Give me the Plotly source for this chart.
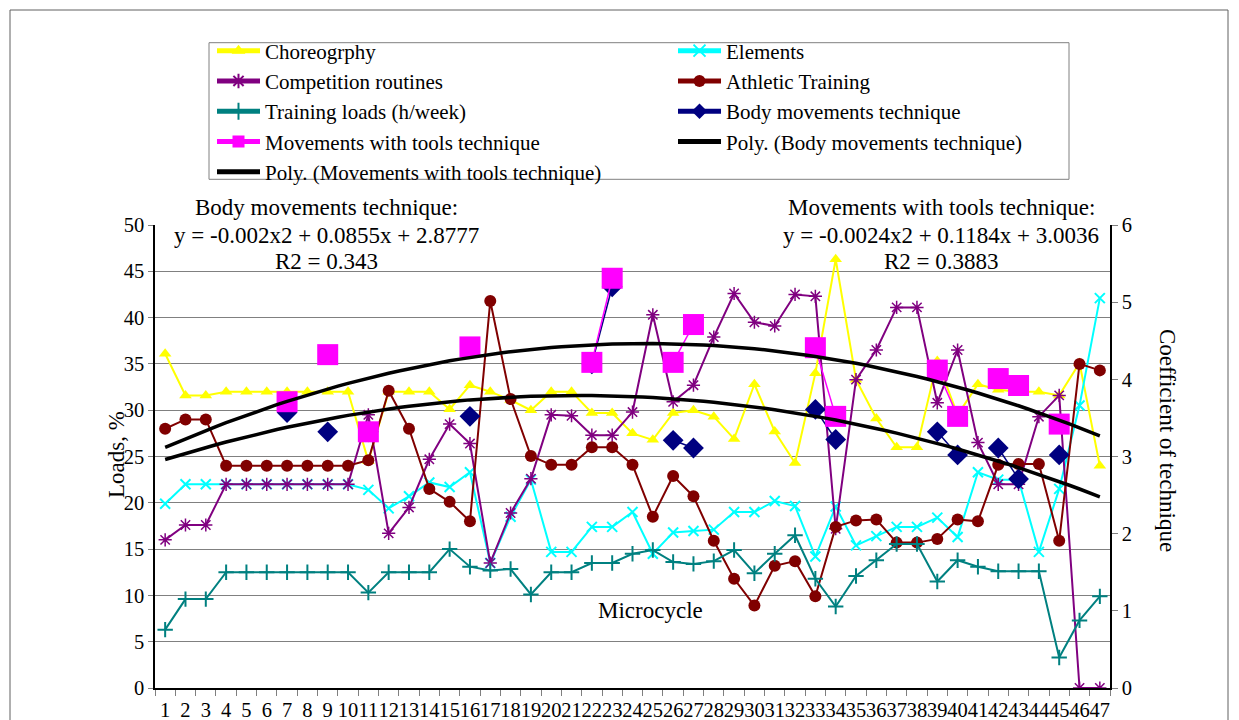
import numpy as np
import plotly.graph_objects as go

# ---------------- data ----------------
microcycle = list(range(1, 48))
tick_labels = [str(i) for i in microcycle]

choreography = [36.1, 31.6, 31.6, 32.0, 32.0, 32.0, 32.0, 32.0, 32.0, 32.0,
                24.5, 32.0, 32.0, 32.0, 30.1, 32.7, 32.0, 31.1, 30.0, 32.0,
                32.0, 29.7, 29.7, 27.5, 26.8, 29.7, 30.0, 29.3, 26.9, 32.8,
                27.7, 24.3, 34.0, 46.3, 33.3, 29.1, 26.0, 26.0, 35.3, 29.5,
                32.8, 32.2, 32.0, 32.0, 31.6, 35.1, 24.0]

elements = [19.9, 22.0, 22.0, 22.0, 22.0, 22.0, 22.0, 22.0, 22.0, 22.0,
            21.4, 19.4, 20.7, 22.2, 21.7, 23.3, 13.5, 18.5, 22.5, 14.7,
            14.7, 17.4, 17.4, 19.0, 14.5, 16.8, 16.95, 17.1, 19.0, 19.0,
            20.2, 19.65, 14.2, 19.6, 15.4, 16.4, 17.4, 17.4, 18.4, 16.3,
            23.3, 22.5, 22.5, 14.7, 21.5, 30.5, 42.1]

competition = [16.0, 17.6, 17.6, 22.0, 22.0, 22.0, 22.0, 22.0, 22.0, 22.0,
               29.5, 16.7, 19.5, 24.7, 28.5, 26.4, 13.5, 18.9, 22.6, 29.5,
               29.4, 27.3, 27.3, 29.8, 40.3, 30.9, 32.7, 37.9, 42.6, 39.5,
               39.1, 42.5, 42.3, 17.2, 33.3, 36.5, 41.1, 41.1, 30.8, 36.5,
               26.5, 22.0, 22.0, 29.3, 31.6, 0.0, 0.0]

athletic = [28.0, 29.0, 29.0, 24.0, 24.0, 24.0, 24.0, 24.0, 24.0, 24.0,
            24.6, 32.1, 28.0, 21.5, 20.1, 18.0, 41.8, 31.2, 25.05, 24.1,
            24.1, 26.0, 26.0, 24.1, 18.5, 22.9, 20.7, 15.9, 11.8, 8.9,
            13.2, 13.7, 9.9, 17.4, 18.1, 18.2, 15.7, 15.7, 16.1, 18.2,
            18.0, 24.1, 24.2, 24.2, 15.9, 35.0, 34.3]

training_loads = [6.3, 9.6, 9.6, 12.5, 12.5, 12.5, 12.5, 12.5, 12.5, 12.5,
                  10.3, 12.5, 12.5, 12.5, 15.0, 13.1, 12.7, 12.85, 10.1, 12.5,
                  12.5, 13.5, 13.5, 14.5, 14.9, 13.6, 13.4, 13.7, 14.9, 12.4,
                  14.5, 16.5, 11.8, 8.8, 12.1, 13.8, 15.55, 15.55, 11.5, 13.8,
                  13.1, 12.6, 12.6, 12.6, 3.3, 7.3, 9.9]

N = None
body_technique = [N, N, N, N, N, N, 3.57, N, 3.32, N,
                  3.32, N, N, N, N, 3.52, N, N, N, N,
                  N, 4.2, 5.2, N, N, 3.21, 3.11, N, N, N,
                  N, N, 3.61, 3.22, N, N, N, N, 3.32, 3.02,
                  N, 3.11, 2.71, N, 3.02, N, N]

tools_technique = [N, N, N, N, N, N, 3.71, N, 4.32, N,
                   3.32, N, N, N, N, 4.42, N, N, N, N,
                   N, 4.22, 5.31, N, N, 4.22, 4.71, N, N, N,
                   N, N, 4.41, 3.52, N, N, N, N, 4.12, 3.52,
                   N, 4.01, 3.92, N, 3.42, N, N]

# polynomial trendline coefficients (as printed on the chart)
body_poly = [-0.002, 0.0855, 2.8777]
tools_poly = [-0.0024, 0.1184, 3.0036]

# ---------------- helpers ----------------
FONT = "Liberation Serif, Times New Roman, serif"
OFF = 8                      # page body margin
W, H = 1231, 712
L, T = 155 - OFF, 225 - OFF
R = W - (1110 - OFF)
B = H - (688 - OFF)
PW, PH = W - L - R, H - T - B


def px(xp):
    """page pixel x -> paper coordinate"""
    return (xp - OFF - L) / PW


def py(yp):
    """page pixel y -> paper coordinate"""
    return (H - B - (yp - OFF)) / PH


fig = go.Figure()

fig.add_trace(go.Scatter(
    x=microcycle, y=choreography, name="Choreogrphy", mode="lines+markers",
    line=dict(color="#FFFF00", width=2),
    marker=dict(symbol="triangle-up", size=11, color="#FFFF00"),
    legend="legend"))
fig.add_trace(go.Scatter(
    x=microcycle, y=elements, name="Elements", mode="lines+markers",
    line=dict(color="#00FFFF", width=2),
    marker=dict(symbol="x-thin", size=10, line=dict(color="#00FFFF", width=2)),
    legend="legend2"))
fig.add_trace(go.Scatter(
    x=microcycle, y=competition, name="Competition routines", mode="lines+markers",
    line=dict(color="#800080", width=2),
    marker=dict(symbol="asterisk-open", size=11, line=dict(color="#800080", width=1.5)),
    legend="legend"))
fig.add_trace(go.Scatter(
    x=microcycle, y=athletic, name="Athletic Training", mode="lines+markers",
    line=dict(color="#800000", width=2),
    marker=dict(symbol="circle", size=12, color="#800000"),
    legend="legend2"))
fig.add_trace(go.Scatter(
    x=microcycle, y=training_loads, name="Training loads (h/week)", mode="lines+markers",
    line=dict(color="#008080", width=2),
    marker=dict(symbol="cross-thin", size=11, line=dict(color="#008080", width=2)),
    legend="legend"))
fig.add_trace(go.Scatter(
    x=microcycle, y=body_technique, name="Body movements technique", mode="lines+markers",
    line=dict(color="#000080", width=1.5), connectgaps=False,
    marker=dict(symbol="diamond", size=16, color="#000080"),
    yaxis="y2", legend="legend2"))
fig.add_trace(go.Scatter(
    x=microcycle, y=tools_technique, name="Movements with tools technique", mode="lines+markers",
    line=dict(color="#FF00FF", width=1.5), connectgaps=False,
    marker=dict(symbol="square", size=21, color="#FF00FF"),
    yaxis="y2", legend="legend"))

xfit = np.linspace(microcycle[0], microcycle[-1], 93)
fig.add_trace(go.Scatter(
    x=xfit, y=np.polyval(body_poly, xfit), name="Poly. (Body movements technique)",
    mode="lines", line=dict(color="black", width=3.5), yaxis="y2", legend="legend2"))
fig.add_trace(go.Scatter(
    x=xfit, y=np.polyval(tools_poly, xfit), name="Poly. (Movements with tools technique)",
    mode="lines", line=dict(color="black", width=3.5), yaxis="y2", legend="legend"))

tickfont = dict(family=FONT, size=20.5, color="black")
leg_common = dict(xanchor="left", yanchor="top", bgcolor="rgba(0,0,0,0)",
                  borderwidth=0, font=dict(family=FONT, size=21, color="black"),
                  itemwidth=43, tracegroupgap=0, itemsizing="constant")

fig.update_layout(
    width=W, height=H,
    margin=dict(l=L, r=R, t=T, b=B, autoexpand=False),
    paper_bgcolor="white", plot_bgcolor="white",
    font=dict(family=FONT, size=21, color="black"),
    xaxis=dict(range=[0.5, 47.5], tickmode="array", tickvals=microcycle, ticktext=tick_labels,
               tickangle=0, ticks="", showline=True, linecolor="black", linewidth=1.5,
               showgrid=False, zeroline=False, tickfont=tickfont, ticklabelstandoff=3,
               minor=dict(ticks="outside", ticklen=6, tickcolor="#808080", tick0=0.5, dtick=1,
                          showgrid=False)),
    yaxis=dict(range=[0, 50], dtick=5, showgrid=True, gridcolor="#808080", gridwidth=1,
               showline=True, linecolor="black", linewidth=1.5, ticks="outside", ticklen=5,
               tickcolor="#808080", zeroline=False, tickfont=tickfont),
    yaxis2=dict(range=[0, 6], dtick=1, overlaying="y", side="right", showgrid=False,
                showline=True, linecolor="black", linewidth=1.5, ticks="outside", ticklen=6,
                tickcolor="#808080", zeroline=False, tickfont=tickfont),
    legend=dict(x=px(212), y=py(30.5), **leg_common),
    legend2=dict(x=px(673), y=py(30.5), **leg_common),
    showlegend=True,
)

shapes = [
    dict(type="rect", xref="paper", yref="paper", x0=px(209), x1=px(1069), y0=py(179.3), y1=py(42.7),
         line=dict(color="#808080", width=1), fillcolor="rgba(0,0,0,0)", layer="above"),
    dict(type="rect", xref="paper", yref="paper", x0=px(10), x1=px(1228), y0=py(740), y1=py(10),
         line=dict(color="#606060", width=1), fillcolor="rgba(0,0,0,0)", layer="above"),
]
fig.update_layout(shapes=shapes)

ann_font = dict(family=FONT, size=23, color="black")
annotations = [
    dict(text="Body movements technique:", x=px(326), y=py(208)),
    dict(text="y = -0.002x2 + 0.0855x + 2.8777", x=px(326), y=py(235)),
    dict(text="R2 = 0.343", x=px(326), y=py(261)),
    dict(text="Movements with tools technique:", x=px(941), y=py(208)),
    dict(text="y = -0.0024x2 + 0.1184x + 3.0036", x=px(941), y=py(235)),
    dict(text="R2 = 0.3883", x=px(941), y=py(261)),
    dict(text="Microcycle", x=px(650), y=py(610)),
    dict(text="Loads, %", x=px(116), y=py(455), textangle=-90),
    dict(text="Coefficient of technique", x=px(1168), y=py(440), textangle=90),
]
for a in annotations:
    a.update(xref="paper", yref="paper", showarrow=False, font=ann_font,
             xanchor="center", yanchor="middle")
fig.update_layout(annotations=annotations)

fig.write_html("out.html")
